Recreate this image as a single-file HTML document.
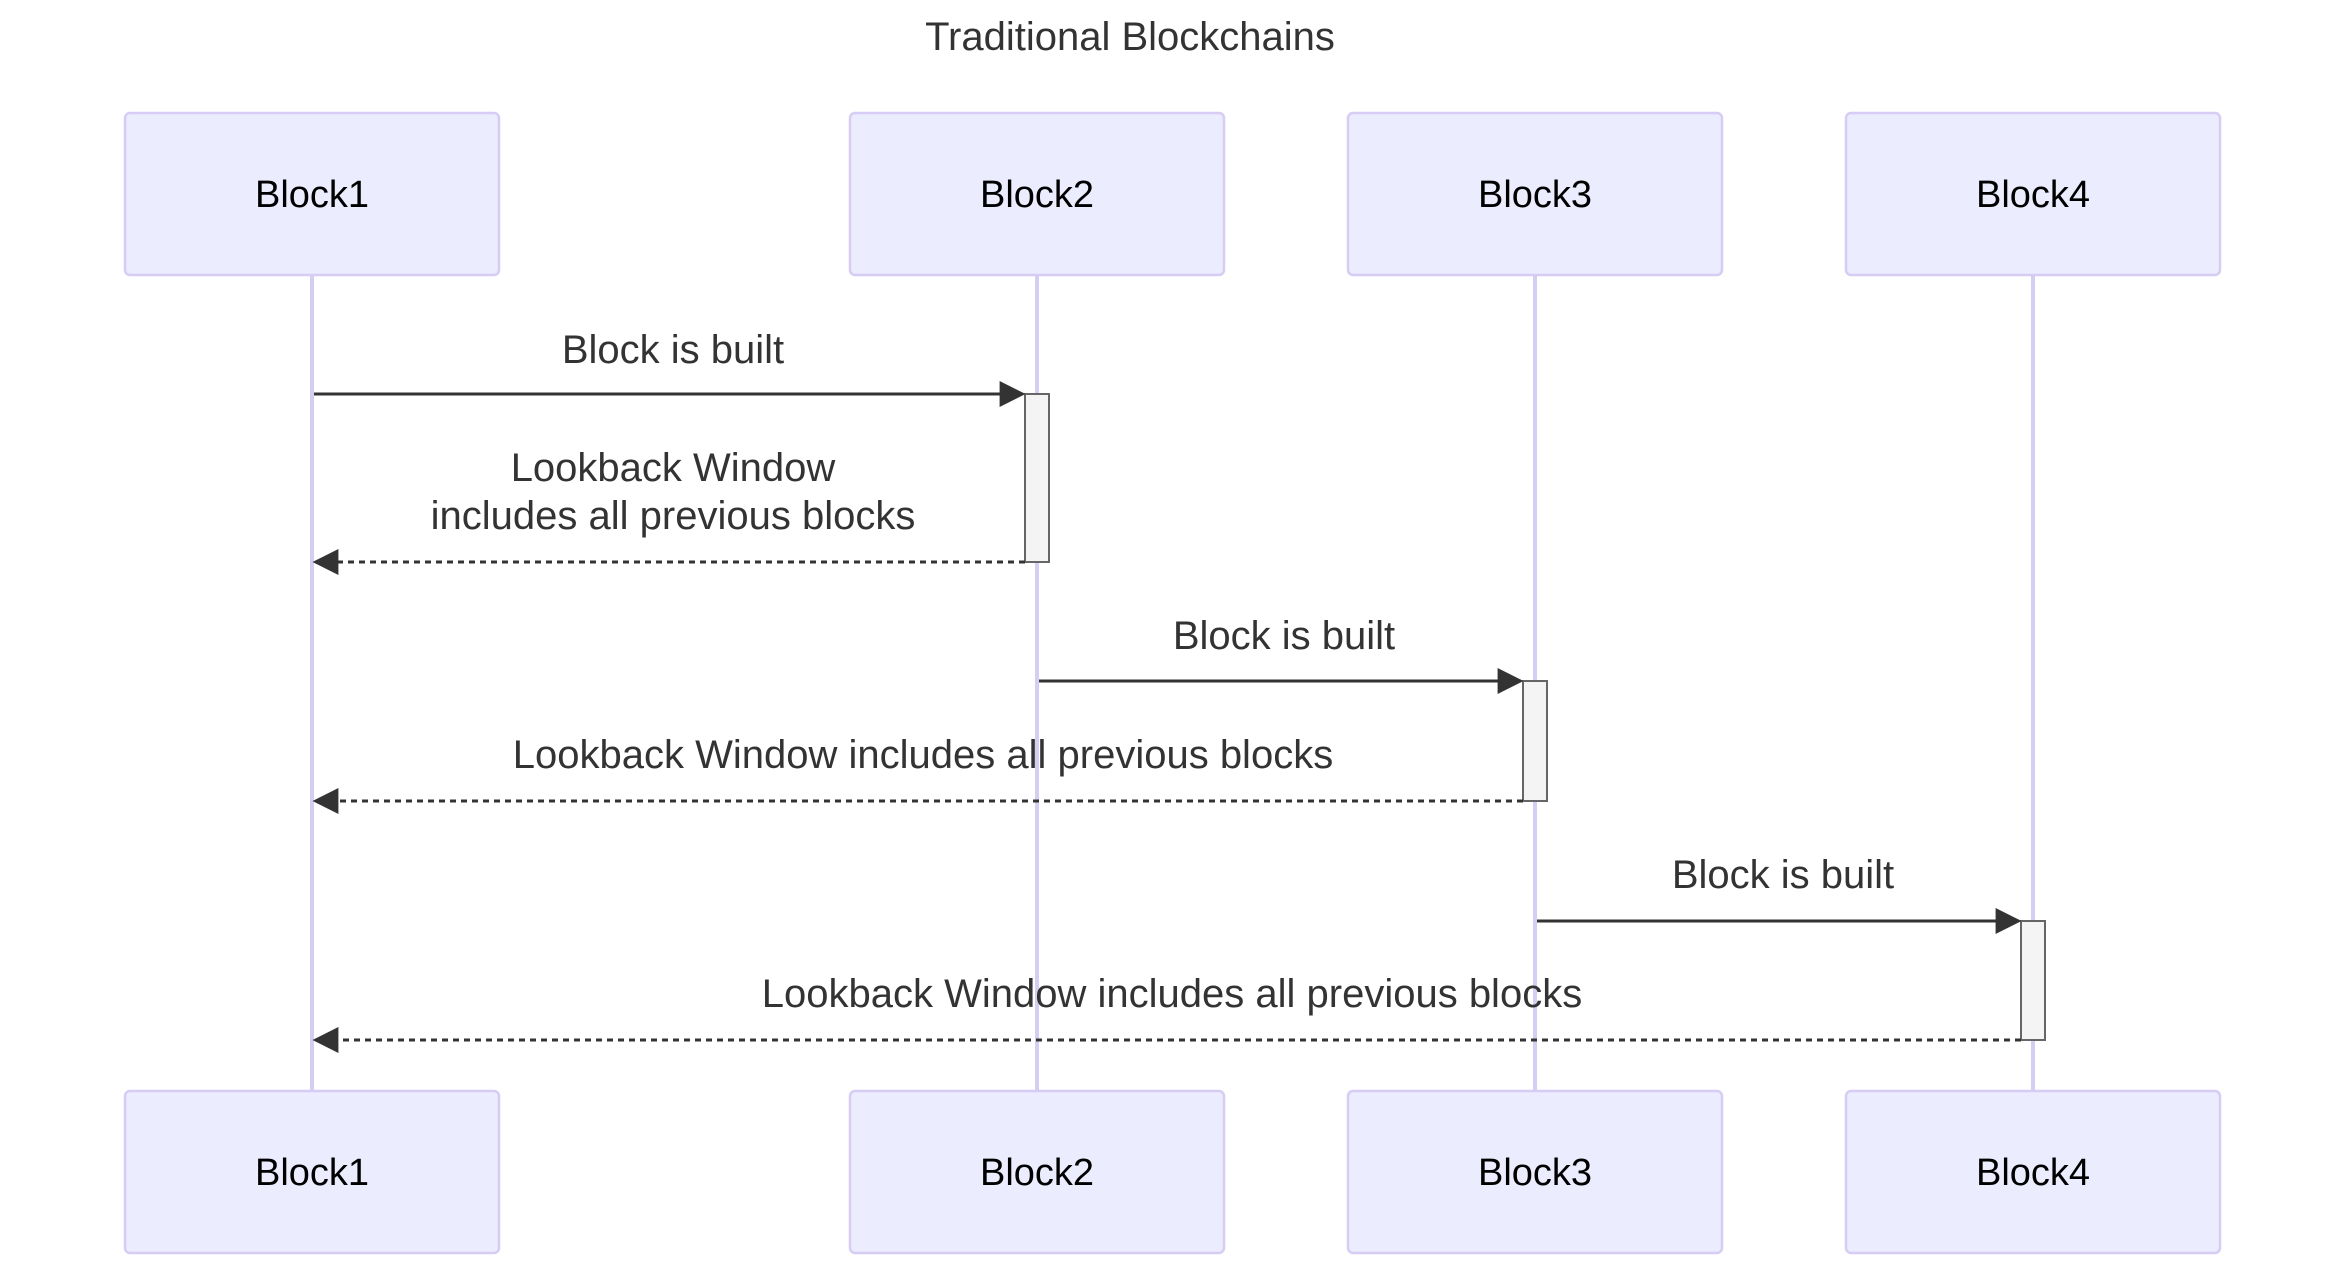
<!DOCTYPE html>
<html><head><meta charset="utf-8"><style>html,body{margin:0;padding:0;background:#fff}svg{display:block}</style></head>
<body>
<svg width="2345" height="1278" viewBox="0 0 2345 1278" xmlns="http://www.w3.org/2000/svg" font-family="'Liberation Sans', 'DejaVu Sans', sans-serif">
<defs>
<marker id="ah2" viewBox="0 0 10 10" refX="9" refY="5" markerWidth="26" markerHeight="26" markerUnits="userSpaceOnUse" orient="auto"><path d="M0,0 L10,5 L0,10 z" fill="#333"/></marker>
</defs>
<text x="1130" y="50" font-size="40" text-anchor="middle" fill="#333">Traditional Blockchains</text>
<g stroke="#d6cdf3" stroke-width="4">
<line x1="312" y1="274" x2="312" y2="1090"/>
<line x1="1037" y1="274" x2="1037" y2="1090"/>
<line x1="1535" y1="274" x2="1535" y2="1090"/>
<line x1="2033" y1="274" x2="2033" y2="1090"/>
</g>
<g fill="#ececff" stroke="#d6ccf4" stroke-width="2.5">
<rect x="125" y="113" width="374" height="162" rx="5"/>
<rect x="850" y="113" width="374" height="162" rx="5"/>
<rect x="1348" y="113" width="374" height="162" rx="5"/>
<rect x="1846" y="113" width="374" height="162" rx="5"/>
<rect x="125" y="1091" width="374" height="162" rx="5"/>
<rect x="850" y="1091" width="374" height="162" rx="5"/>
<rect x="1348" y="1091" width="374" height="162" rx="5"/>
<rect x="1846" y="1091" width="374" height="162" rx="5"/>
</g>
<g font-size="38" text-anchor="middle" fill="#000">
<text x="312" y="207">Block1</text><text x="1037" y="207">Block2</text><text x="1535" y="207">Block3</text><text x="2033" y="207">Block4</text>
<text x="312" y="1185">Block1</text><text x="1037" y="1185">Block2</text><text x="1535" y="1185">Block3</text><text x="2033" y="1185">Block4</text>
</g>
<g fill="#f4f4f4" stroke="#666" stroke-width="2">
<rect x="1025" y="394" width="24" height="168"/>
<rect x="1523" y="681" width="24" height="120"/>
<rect x="2021" y="921" width="24" height="119"/>
</g>
<g stroke="#333" stroke-width="3" fill="none">
<line x1="314" y1="394" x2="1023" y2="394" marker-end="url(#ah2)"/>
<line x1="1025" y1="562" x2="315" y2="562" stroke-dasharray="6,5" marker-end="url(#ah2)"/>
<line x1="1039" y1="681" x2="1521" y2="681" marker-end="url(#ah2)"/>
<line x1="1523" y1="801" x2="315" y2="801" stroke-dasharray="6,5" marker-end="url(#ah2)"/>
<line x1="1537" y1="921" x2="2019" y2="921" marker-end="url(#ah2)"/>
<line x1="2021" y1="1040" x2="315" y2="1040" stroke-dasharray="6,5" marker-end="url(#ah2)"/>
</g>
<g font-size="40" text-anchor="middle" fill="#333">
<text x="673" y="363">Block is built</text>
<text x="673" y="481">Lookback Window</text>
<text x="673" y="529">includes all previous blocks</text>
<text x="1284" y="649">Block is built</text>
<text x="923" y="768">Lookback Window includes all previous blocks</text>
<text x="1783" y="888">Block is built</text>
<text x="1172" y="1007">Lookback Window includes all previous blocks</text>
</g>
</svg>
</body></html>
